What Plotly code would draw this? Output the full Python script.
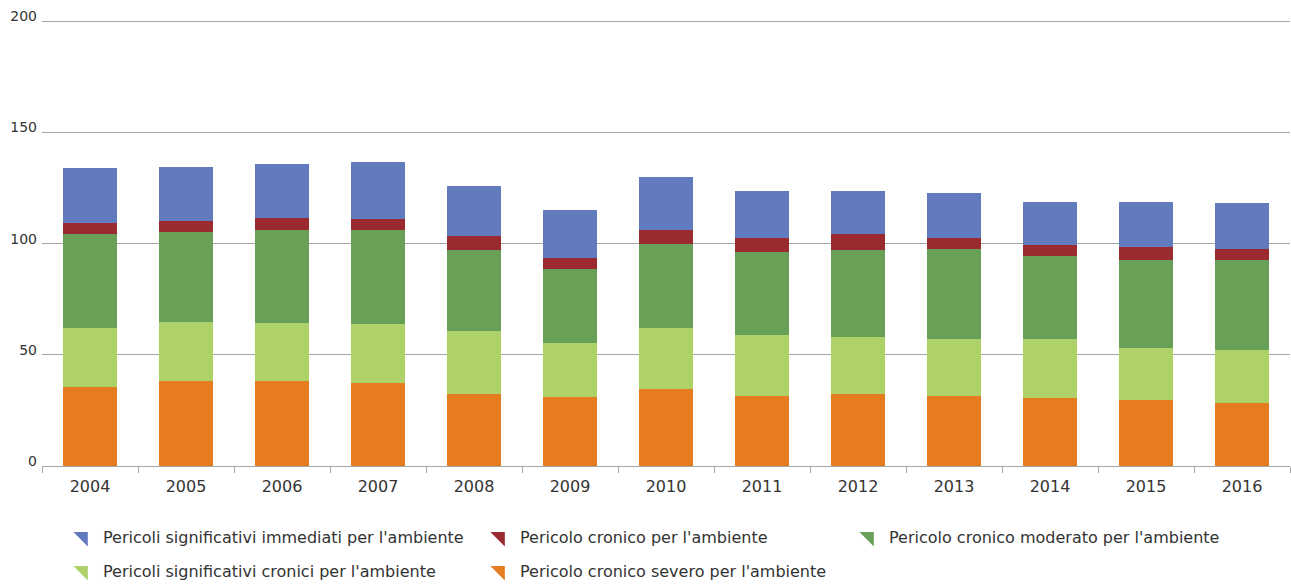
import plotly.graph_objects as go

years = ["2004", "2005", "2006", "2007", "2008", "2009", "2010",
         "2011", "2012", "2013", "2014", "2015", "2016"]

severo = [35.4, 38.1, 38.1, 37.3, 32.5, 31.2, 34.6, 31.5, 32.2, 31.5, 30.6, 29.5, 28.5]
signif_cronici = [26.5, 26.8, 26.1, 26.7, 28.2, 24.0, 27.3, 27.4, 25.8, 25.5, 26.5, 23.7, 23.7]
moderato = [42.3, 40.3, 41.9, 42.1, 36.4, 33.2, 38.1, 37.3, 39.1, 40.4, 37.3, 39.3, 40.3]
cronico = [5.1, 5.0, 5.3, 5.0, 6.3, 5.0, 6.3, 6.2, 7.2, 5.0, 4.8, 5.8, 4.9]
immediati = [24.6, 24.4, 24.5, 25.4, 22.6, 21.6, 23.6, 21.4, 19.5, 20.5, 19.6, 20.5, 20.7]

names = {
    "immediati": "Pericoli significativi immediati per l'ambiente",
    "cronico": "Pericolo cronico per l'ambiente",
    "moderato": "Pericolo cronico moderato per l'ambiente",
    "signif": "Pericoli significativi cronici per l'ambiente",
    "severo": "Pericolo cronico severo per l'ambiente",
}
colors = {
    "immediati": "#627bbf",
    "cronico": "#9b2a30",
    "moderato": "#68a058",
    "signif": "#aed16a",
    "severo": "#e67b1f",
}

fig = go.Figure()
stack = [("severo", severo), ("signif", signif_cronici), ("moderato", moderato),
         ("cronico", cronico), ("immediati", immediati)]
for key, vals in stack:
    fig.add_trace(go.Bar(x=years, y=vals, name=names[key],
                         marker=dict(color=colors[key], line=dict(width=0)),
                         showlegend=False))

# legend entries: (key, text-left x in px, row centre y in px)
legend_items = [("immediati", 103, 537), ("cronico", 520, 537), ("moderato", 889, 537),
                ("signif", 103, 571), ("severo", 520, 571)]
legend_layout = {}
for i, (key, lx, ly) in enumerate(legend_items):
    lname = "legend" if i == 0 else f"legend{i + 1}"
    fig.add_trace(go.Scatter(x=[None], y=[None], mode="markers", name=names[key],
                             marker=dict(symbol="triangle-ne", size=16, color=colors[key]),
                             legend=lname, showlegend=True))
    legend_layout[lname] = dict(
        orientation="h", xref="container", yref="container",
        xanchor="left", yanchor="middle",
        x=(lx - 40) / 1291, y=1 - ly / 586,
        font=dict(family="DejaVu Sans", size=16, color="#333333"),
        itemwidth=30, bgcolor="rgba(0,0,0,0)",
    )

fig.update_layout(
    width=1291, height=586,
    margin=dict(l=42, r=1, t=19, b=120),
    paper_bgcolor="white", plot_bgcolor="white",
    barmode="stack", bargap=0.44,
    xaxis=dict(
        showgrid=False, showline=True, linecolor="#a6a6a6", linewidth=1,
        ticks="outside", tickson="boundaries", ticklen=6, tickcolor="#a6a6a6",
        ticklabelstandoff=6,
        tickfont=dict(family="DejaVu Sans", size=16, color="#333333"),
        fixedrange=True,
    ),
    yaxis=dict(
        range=[0, 201], tickvals=[0, 50, 100, 150, 200],
        showgrid=True, gridcolor="#a6a6a6", gridwidth=1,
        zeroline=False, showline=False, ticks="",
        ticklabelstandoff=4, ticklabelshift=-5,
        tickfont=dict(family="DejaVu Sans", size=14, color="#333333"),
        fixedrange=True,
    ),
    **legend_layout,
)

fig.write_html("out.html")
